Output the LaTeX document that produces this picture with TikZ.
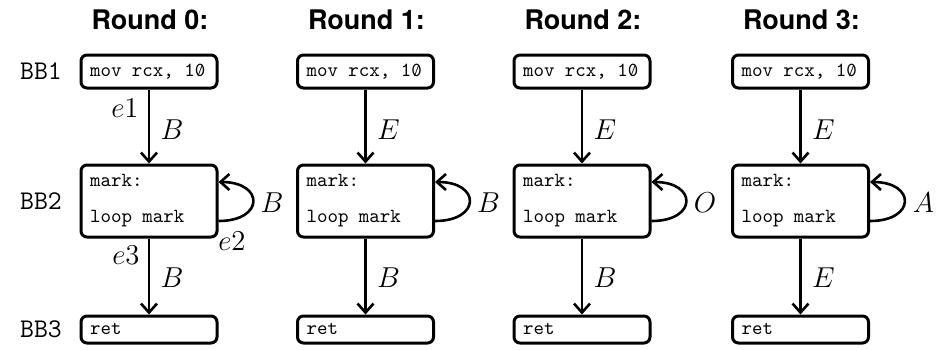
\documentclass[tikz,border=0pt]{standalone}
\usepackage{fontspec}
\newfontfamily\headfont{TeX Gyre Heros}
\usetikzlibrary{arrows.meta}
% slashed zero and a full-width space for the code listings
\newcommand{\szero}{\makebox[0pt][l]{0}\makebox[0.525em][c]{\raisebox{0.1ex}{\scalebox{0.6}[0.75]{/}}}}
\newcommand{\tsp}{\hspace{0.525em}}
\tikzset{
  blk/.style={draw, line width=1.5pt, rounded corners=3pt, minimum width=68pt,
    text width=59pt, inner xsep=4.5pt, inner ysep=0pt, align=left,
    font=\fontsize{10}{12}\selectfont\ttfamily},
  flow/.style={line width=1.3pt, -{Straight Barb[length=4.5pt,width=8pt,line width=1.3pt]}},
  elab/.style={font=\fontsize{14.5}{16}\selectfont, inner sep=0pt},
  rowlab/.style={font=\fontsize{13.5}{15}\selectfont\ttfamily, inner sep=0pt},
  head/.style={font=\fontsize{13.5}{15}\selectfont\headfont\bfseries, inner sep=0pt}
}
\begin{document}
\begin{tikzpicture}[x=0.5pt, y=-0.5pt]
\useasboundingbox (0,0) rectangle (936,349);
% row names
\node[rowlab] (r1) at (41,71) {BB1};
\node[rowlab] (r2) at (41,201) {BB2};
\node[rowlab] (r3) at (41,329) {BB3};
% one column per round: index / centre / top edge / self loop / bottom edge
\foreach \i/\c/\t/\l/\b in {0/149/B/B/B, 1/365.5/E/B/B, 2/582/E/O/B, 3/800.5/E/A/E}{
  \node[head] (h\i) at (\c+1,20) {Round \i:};
  \node[blk, minimum height=16.5pt] (a\i) at (\c,71.5) {mov\tsp rcx,\tsp 1\szero};
  \node[blk, minimum height=36pt] (m\i) at (\c,201) {mark:\\[6pt]loop\tsp mark};
  \node[blk, minimum height=13.5pt] (z\i) at (\c,329.5) {ret};
  \draw[flow] (a\i.south) -- (m\i.north);
  \draw[flow] (m\i.south) -- (z\i.north);
  \draw[flow] ([yshift=-10pt]m\i.east) .. controls +(46,0) and +(46,0) .. ([yshift=9.5pt]m\i.east);
  \node[elab] (lt\i) at (\c+23,130) {$\t$};
  \node[elab] (lb\i) at (\c+23,278) {$\b$};
  \node[elab] (ll\i) at (\c+123,203) {$\l$};
}
% edge names in the first round
\node[elab] (e1) at (125,108) {$e1$};
\node[elab] (e2) at (232,241) {$e2$};
\node[elab] (e3) at (126,255) {$e3$};
\end{tikzpicture}
\end{document}
